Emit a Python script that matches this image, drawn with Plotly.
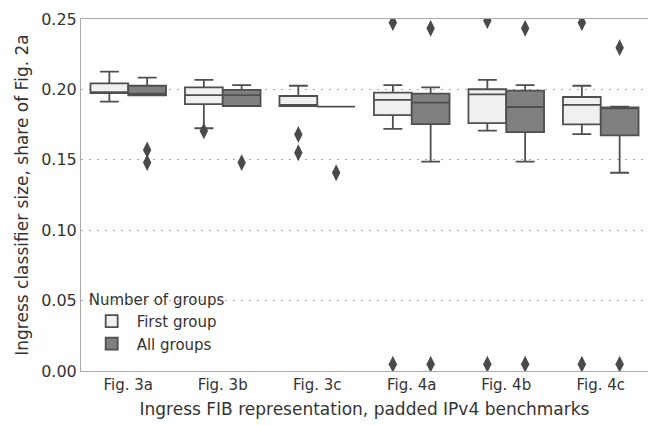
import plotly.graph_objects as go

categories = ["Fig. 3a", "Fig. 3b", "Fig. 3c", "Fig. 4a", "Fig. 4b", "Fig. 4c"]
group_names = ["First group", "All groups"]

first_lower = [0.1913, 0.1724, 0.1882, 0.1719, 0.1707, 0.1683]
first_q1 = [0.1974, 0.1896, 0.1882, 0.1818, 0.1761, 0.1752]
first_median = [0.1976, 0.1960, 0.1890, 0.1925, 0.1965, 0.1890]
first_q3 = [0.2043, 0.2015, 0.1953, 0.1977, 0.2001, 0.1946]
first_upper = [0.2126, 0.2067, 0.2026, 0.2031, 0.2067, 0.2026]
first_outliers = [[], [0.1705], [0.168, 0.155], [0.2474, 0.0048], [0.2488, 0.0048], [0.2474, 0.0048]]

all_lower = [0.1958, 0.1882, 0.1877, 0.1487, 0.1487, 0.1408]
all_q1 = [0.1958, 0.1882, 0.1877, 0.1754, 0.1697, 0.1674]
all_median = [0.1970, 0.1960, 0.1877, 0.1906, 0.1875, 0.1866]
all_q3 = [0.2026, 0.1996, 0.1877, 0.1970, 0.1991, 0.1873]
all_upper = [0.2083, 0.2031, 0.1877, 0.2015, 0.2031, 0.1877]
all_outliers = [[0.157, 0.148], [0.148], [0.1408], [0.2434, 0.0048], [0.2434, 0.0048], [0.2296, 0.0048]]

y_ticks = [0.0, 0.05, 0.10, 0.15, 0.20, 0.25]

FONT = "DejaVu Sans"
TXT = "#333333"
EDGE = "#4f4f4f"
fills = ["#f0f0f0", "#808080"]
offsets = [-0.2, 0.2]

groups = [
    (first_lower, first_q1, first_median, first_q3, first_upper, first_outliers),
    (all_lower, all_q1, all_median, all_q3, all_upper, all_outliers),
]

fig = go.Figure()
for g, (lo, q1, med, q3, up, outs) in enumerate(groups):
    xs = [i + offsets[g] for i in range(len(categories))]
    fig.add_trace(go.Box(
        x=xs, q1=q1, median=med, q3=q3, lowerfence=lo, upperfence=up,
        width=0.4, whiskerwidth=0.5, fillcolor=fills[g],
        line=dict(color=EDGE, width=1.8), boxpoints=False,
        name=group_names[g], showlegend=True, hoverinfo="skip",
    ))
    ox, oy = [], []
    for i, vals in enumerate(outs):
        for v in vals:
            ox.append(i + offsets[g])
            oy.append(v)
    fig.add_trace(go.Scatter(
        x=ox, y=oy, mode="markers", showlegend=False,
        marker=dict(symbol="diamond-tall", size=12, color="#4a4a4a",
                    line=dict(width=0)),
    ))

fig.update_layout(
    width=648, height=425,
    margin=dict(l=81, r=0, t=19, b=54),
    paper_bgcolor="white", plot_bgcolor="white",
    font=dict(family=FONT, size=15, color=TXT),
    boxmode="overlay",
    legend=dict(
        x=0.01, y=0.03, xanchor="left", yanchor="bottom",
        bgcolor="rgba(0,0,0,0)",
        title=dict(text="Number of groups", font=dict(size=15, color=TXT)),
        font=dict(size=15, color=TXT),
        itemwidth=40,
    ),
)
fig.update_xaxes(
    range=[-0.5, 5.5], tickmode="array",
    tickvals=list(range(len(categories))), ticktext=categories,
    showgrid=False, zeroline=False,
    showline=True, linecolor="#aaaaaa", linewidth=1, mirror=True,
    ticks="", tickfont=dict(size=15),
    title=dict(text="Ingress FIB representation, padded IPv4 benchmarks",
               font=dict(size=17), standoff=10),
)
fig.update_yaxes(
    range=[0, 0.25], tickmode="array", tickvals=y_ticks,
    ticktext=[f"{v:.2f}" for v in y_ticks],
    showgrid=True, gridcolor="#a8a8a8", griddash="2px,6px", gridwidth=1.3,
    zeroline=False,
    showline=True, linecolor="#aaaaaa", linewidth=1, mirror=True,
    ticks="", tickfont=dict(size=16),
    title=dict(text="Ingress classifier size, share of Fig. 2a",
               font=dict(size=17), standoff=8),
)

fig.write_html("out.html")
